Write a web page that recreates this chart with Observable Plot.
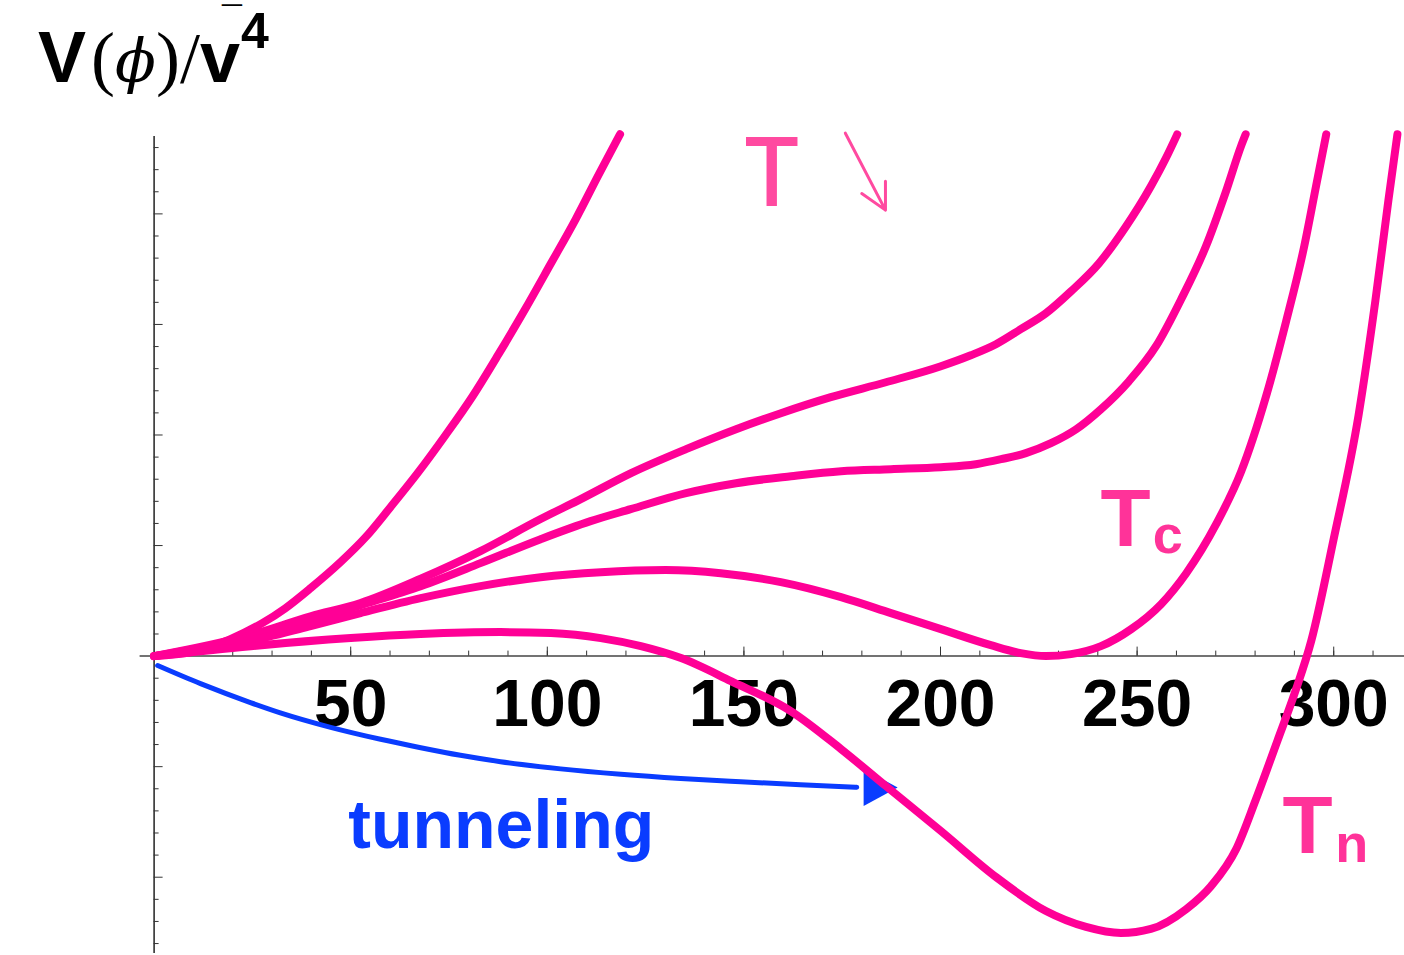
<!DOCTYPE html>
<html><head><meta charset="utf-8">
<script src="https://cdn.jsdelivr.net/npm/d3@7"></script>
<script src="https://cdn.jsdelivr.net/npm/@observablehq/plot@0.6"></script>
<style>
body{margin:0;background:#fff;}
#wrap{position:relative;width:1404px;height:955px;overflow:hidden;}
#title{position:absolute;left:0;top:0;}
#chart{position:absolute;left:0;top:0;}
</style></head><body>
<div id="wrap">
<div id="chart"></div>
<svg id="title" width="340" height="110"><text x="38" y="82" fill="#000"><tspan font-family="Liberation Sans, Arial, sans-serif" font-weight="bold" font-size="72">V</tspan><tspan font-family="Liberation Serif, serif" font-size="72" dx="5">(</tspan><tspan font-family="DejaVu Serif, serif" font-style="italic" font-size="60">ϕ</tspan><tspan font-family="Liberation Serif, serif" font-size="72">)/</tspan><tspan font-family="Liberation Sans, Arial, sans-serif" font-weight="bold" font-size="72">v</tspan><tspan font-family="Liberation Sans, Arial, sans-serif" font-weight="bold" font-size="50" dx="1" dy="-34">4</tspan></text><text x="222" y="32" font-family="Liberation Sans, Arial, sans-serif" font-weight="bold" font-size="36" fill="#000">¯</text></svg>
</div>
<script>
// ---- data ----
const c1x = [0, 9.5, 19.4, 27.5, 33.4, 39.8, 47.4, 53.8, 60.1, 67.2, 74.1, 81.0, 87.6, 94.2, 100.8, 107.2, 113.1, 118.5];
const c1y = [0, 0.036, 0.154, 0.298, 0.434, 0.615, 0.850, 1.076, 1.347, 1.664, 1.998, 2.351, 2.731, 3.128, 3.544, 3.951, 4.358, 4.72];

const c2x = [0, 24.5, 39.8, 52.5, 67.8, 83.0, 98.3, 108.5, 121.3, 135.3, 148.0, 159.4, 172.1, 186.1, 200.1, 207.7, 214.1, 220.4, 226.8, 233.2, 240.3, 247.2, 253.5, 257.3, 260.2];
const c2y = [0, 0.19, 0.36, 0.48, 0.70, 0.95, 1.24, 1.42, 1.655, 1.872, 2.052, 2.197, 2.342, 2.477, 2.622, 2.721, 2.821, 2.957, 3.101, 3.300, 3.553, 3.888, 4.250, 4.503, 4.72];

const c3x = [0, 24.5, 39.8, 52.5, 67.8, 83.0, 98.3, 111.0, 121.2, 135.3, 148.0, 162.0, 174.7, 187.4, 200.1, 209.0, 215.4, 221.7, 228.1, 234.5, 240.8, 247.9, 254.8, 261.2, 267.5, 272.6, 276.5, 277.6];
const c3y = [0, 0.17, 0.32, 0.46, 0.633, 0.841, 1.058, 1.221, 1.329, 1.474, 1.564, 1.627, 1.673, 1.691, 1.709, 1.736, 1.781, 1.836, 1.926, 2.052, 2.233, 2.486, 2.803, 3.228, 3.707, 4.204, 4.62, 4.72];

const c4x = [0, 16.9, 24.5, 39.8, 52.5, 67.8, 83.0, 98.3, 113.6, 130.1, 144.1, 159.4, 174.7, 187.4, 200.1, 212.8, 220.4, 226.8, 233.2, 240.8, 248.5, 256.1, 262.5, 270.1, 276.5, 282.8, 287.9, 292.5, 295.5, 298.1];
const c4y = [0, 0.09, 0.14, 0.271, 0.389, 0.524, 0.633, 0.714, 0.759, 0.778, 0.750, 0.669, 0.533, 0.389, 0.244, 0.099, 0.027, 0, 0.018, 0.090, 0.244, 0.470, 0.750, 1.193, 1.673, 2.351, 3.029, 3.707, 4.250, 4.72];

const c5x = [0, 24.6, 50.0, 67.8, 88.1, 100.9, 113.6, 123.8, 134.0, 146.7, 161.9, 174.7, 186.1, 200.1, 214.1, 226.8, 237.0, 245.9, 253.5, 262.5, 268.8, 275.2, 280.1, 285.7, 290.3, 294.3, 299.9, 306.3, 310.6, 313.9, 316.2];
const c5y = [0, 0.09, 0.163, 0.199, 0.217, 0.208, 0.163, 0.09, -0.018, -0.226, -0.497, -0.841, -1.175, -1.582, -1.998, -2.306, -2.450, -2.505, -2.468, -2.288, -2.080, -1.745, -1.306, -0.764, -0.312, 0.140, 1.045, 2.176, 3.216, 4.121, 4.72];

const tunnelX = [0.9, 11.8, 24.5, 32.1, 44.9, 57.6, 67.5, 77.9, 88.1, 103.4, 118.7, 133.9, 149.2, 164.4, 178.7];
const tunnelY = [-0.085, -0.249, -0.420, -0.513, -0.644, -0.752, -0.826, -0.897, -0.955, -1.020, -1.069, -1.107, -1.137, -1.164, -1.186];
const tunnelTip = [{x: 189.1, y: -1.188}];

const xTickLabels = [50, 100, 150, 200, 250, 300];
const xMinorTicks = d3.range(1, 32).map(i => i * 10);
const yMajorTicks = [-2, -1, 1, 2, 3, 4];
const yMinorTicks = d3.range(-13, 24).map(i => i / 5).filter(v => Math.abs(v - Math.round(v)) > 1e-9);

const bigLabels = [
  {x: 240.7, y: 0.995, text: "T"},
  {x: 287.0, y: -1.78, text: "T"}
];
const subLabels = [
  {x: 254.0, y: 0.93, text: "c"},
  {x: 300.4, y: -1.86, text: "n"}
];
const tunnelLabel = [{x: 49.4, y: -1.737, text: "tunneling"}];
const handT = [{x: 150.2, y: 4.07, text: "T"}];
const handArrow = [{x1: 175.8, y1: 4.73, x2: 186.0, y2: 4.034}];

const curves = [
  ["T1", c1x, c1y], ["T2", c2x, c2y], ["T3", c3x, c3y], ["Tc", c4x, c4y], ["Tn", c5x, c5y]
].flatMap(([name, xs, ys]) => xs.map((x, i) => ({name, x, y: ys[i]})));
const tunnel = tunnelX.map((x, i) => ({x, y: tunnelY[i]}));

// ---- layout ----
const W = 1404, H = 955, mL = 153.6, mR = 0, mT = 136, mB = 2;
const yDom = [-2.69, 4.70];
const y0px = mT + (yDom[1] - 0) / (yDom[1] - yDom[0]) * (H - mT - mB);
const xAxisDy = y0px - (H - mB);

const MAG = "#ff0096";
const LAB = "#ff3399";
const BLUE = "#0a3cff";
const FONT = "Liberation Sans, Arial, Helvetica, sans-serif";

const arrowHead = {
  draw(ctx) {
    ctx.moveTo(0, 0);
    ctx.lineTo(-34, -18.5);
    ctx.lineTo(-34, 18.5);
    ctx.closePath();
  }
};

const plot = Plot.plot({
  width: W, height: H,
  marginLeft: mL, marginRight: mR, marginTop: mT, marginBottom: mB,
  style: {fontFamily: FONT, background: "transparent", overflow: "visible"},
  x: {domain: [0, 318]},
  y: {domain: yDom},
  marks: [
    Plot.ruleX([0], {stroke: "#222", strokeWidth: 1.5}),
    Plot.ruleY([0], {stroke: "#444", strokeWidth: 1.5, insetLeft: -14}),
    Plot.axisY(yMinorTicks, {tickSize: -5, tickFormat: () => "", label: null, stroke: "#333"}),
    Plot.axisY(yMajorTicks, {tickSize: -9, tickFormat: () => "", label: null, stroke: "#333"}),
    Plot.axisX(xMinorTicks, {tickSize: -5, dy: xAxisDy, tickFormat: () => "", label: null, stroke: "#333"}),
    Plot.axisX(xTickLabels, {tickSize: -9, dy: xAxisDy, tickPadding: 32, fontSize: 66, fontWeight: "bold", fill: "#000", label: null, stroke: "#333"}),
    Plot.text(tunnelLabel, {x: "x", y: "y", text: "text", textAnchor: "start", lineAnchor: "bottom", fontSize: 68, fontWeight: "bold", fill: BLUE}),
    Plot.text(bigLabels, {x: "x", y: "y", text: "text", textAnchor: "start", lineAnchor: "bottom", fontSize: 82, fontWeight: "bold", fill: LAB}),
    Plot.text(subLabels, {x: "x", y: "y", text: "text", textAnchor: "start", lineAnchor: "bottom", fontSize: 54, fontWeight: "bold", fill: LAB}),
    Plot.text(handT, {x: "x", y: "y", text: "text", textAnchor: "start", lineAnchor: "bottom", fontSize: 96, fontWeight: 500, fontFamily: "Noto Sans, sans-serif", fill: "#ff4aa0"}),
    Plot.arrow(handArrow, {x1: "x1", y1: "y1", x2: "x2", y2: "y2", stroke: "#ff4aa0", strokeWidth: 3, headLength: 26, headAngle: 55}),
    Plot.line(tunnel, {x: "x", y: "y", stroke: BLUE, strokeWidth: 5, curve: "monotone-x"}),
    Plot.dot(tunnelTip, {x: "x", y: "y", symbol: arrowHead, fill: BLUE, stroke: null, r: 10}),
    Plot.line(curves, {x: "x", y: "y", z: "name", stroke: MAG, strokeWidth: 8, curve: "monotone-x", strokeLinecap: "round", strokeLinejoin: "round"})
  ]
});
document.getElementById("chart").appendChild(plot);
</script>
</body></html>
